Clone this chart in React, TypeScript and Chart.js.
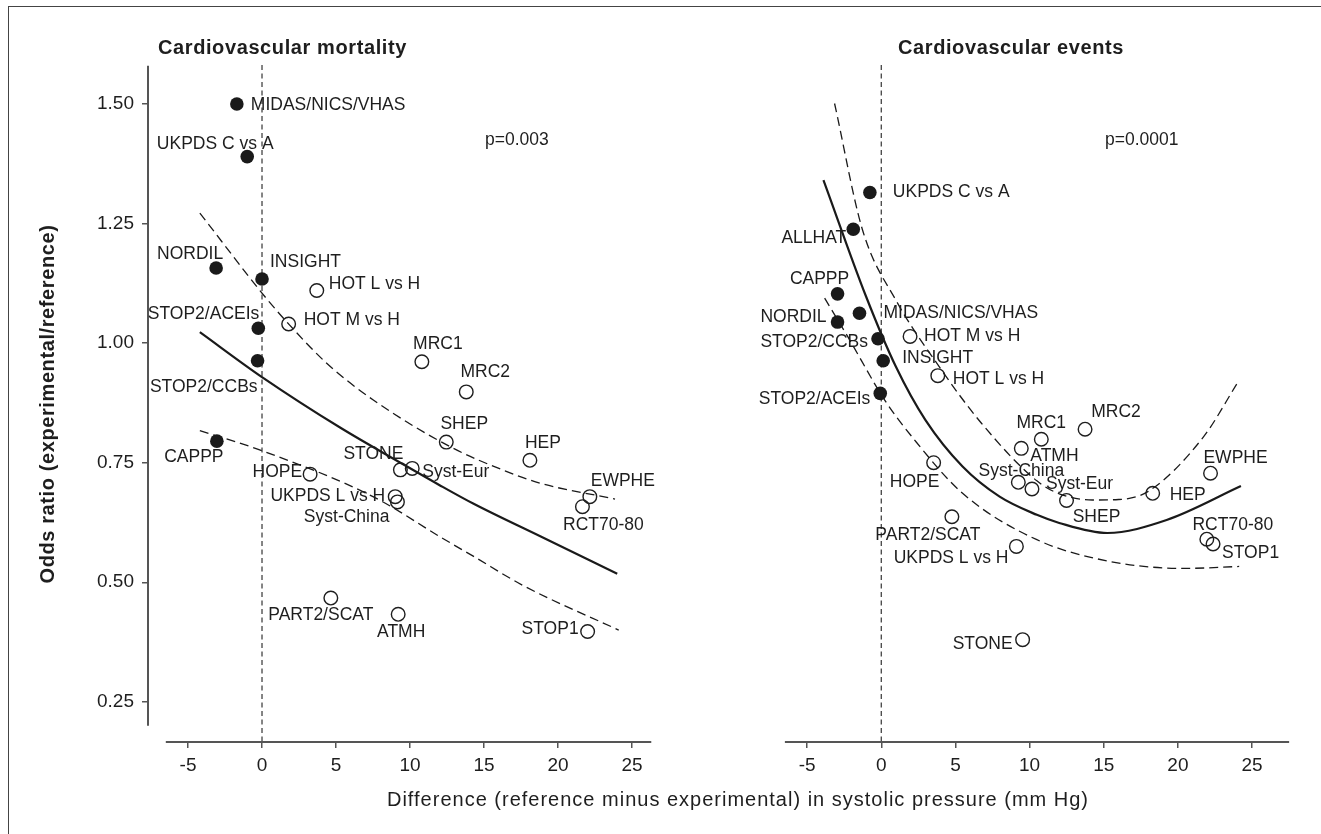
import React, { useEffect, useRef } from "react";
import { Chart, registerables } from "chart.js";
Chart.register(...registerables);

const FONT = "'Liberation Sans', Arial, Helvetica, sans-serif";

// ---------- shared axes ----------
const xTicks = [-5, 0, 5, 10, 15, 20, 25];
const yTicks = [0.25, 0.5, 0.75, 1.0, 1.25, 1.5];
const yAxisFrom = 0.2;
const yAxisTo = 1.58;

// ---------- Cardiovascular mortality ----------
const mortFilledNames = ["MIDAS/NICS/VHAS", "UKPDS C vs A", "NORDIL", "INSIGHT", "STOP2/ACEIs", "STOP2/CCBs", "CAPPP"];
const mortFilledX = [-1.7, -1.0, -3.1, 0.0, -0.25, -0.3, -3.05];
const mortFilledY = [1.5, 1.39, 1.157, 1.134, 1.031, 0.963, 0.795];

const mortOpenNames = ["HOT L vs H", "HOT M vs H", "MRC1", "MRC2", "SHEP", "HEP", "STONE", "Syst-Eur", "HOPE", "UKPDS L vs H", "Syst-China", "EWPHE", "RCT70-80", "PART2/SCAT", "ATMH", "STOP1"];
const mortOpenX = [3.7, 1.8, 10.8, 13.8, 12.45, 18.1, 9.35, 10.15, 3.25, 9.0, 9.15, 22.15, 21.65, 4.65, 9.2, 22.0];
const mortOpenY = [1.11, 1.04, 0.961, 0.898, 0.793, 0.755, 0.735, 0.738, 0.726, 0.679, 0.668, 0.679, 0.658, 0.467, 0.433, 0.397];

const mortFitX = [-4.2, 0, 5.3, 9.35, 12.0, 14.3, 18.8, 24.0];
const mortFitY = [1.023, 0.929, 0.823, 0.75, 0.703, 0.664, 0.596, 0.518];
const mortUpperX = [-4.2, 0.2, 1.8, 4.37, 7.52, 12.93, 16.5, 18.8, 23.85];
const mortUpperY = [1.272, 1.097, 1.04, 0.958, 0.881, 0.78, 0.732, 0.707, 0.674];
const mortLowerX = [-4.2, 0, 7.5, 12.25, 14.3, 17.65, 24.1];
const mortLowerY = [0.817, 0.775, 0.679, 0.591, 0.554, 0.493, 0.4];
const mortXAxisFrom = -6.5;
const mortXAxisTo = 26.3;

// ---------- Cardiovascular events ----------
const evFilledNames = ["UKPDS C vs A", "ALLHAT", "CAPPP", "MIDAS/NICS/VHAS", "NORDIL", "STOP2/CCBs", "INSIGHT", "STOP2/ACEIs"];
const evFilledX = [-0.77, -1.89, -2.95, -1.47, -2.95, -0.22, 0.13, -0.07];
const evFilledY = [1.315, 1.238, 1.103, 1.0625, 1.044, 1.009, 0.963, 0.895];

const evOpenNames = ["HOT M vs H", "HOT L vs H", "MRC1", "MRC2", "ATMH", "EWPHE", "HOPE", "Syst-China", "Syst-Eur", "SHEP", "HEP", "PART2/SCAT", "UKPDS L vs H", "RCT70-80", "STOP1", "STONE"];
const evOpenX = [1.94, 3.81, 10.79, 13.74, 9.44, 22.2, 3.53, 9.24, 10.16, 12.49, 18.3, 4.76, 9.11, 21.95, 22.37, 9.53];
const evOpenY = [1.014, 0.932, 0.799, 0.82, 0.78, 0.728, 0.75, 0.709, 0.695, 0.671, 0.686, 0.637, 0.575, 0.59, 0.58, 0.38];

const evFitX = [-3.9, -1.02, 0.98, 2.98, 5.48, 7.98, 10.49, 12.0, 15.24, 19.24, 24.25];
const evFitY = [1.341, 1.097, 0.951, 0.839, 0.742, 0.679, 0.641, 0.624, 0.603, 0.63, 0.701];
const evUpperX = [-3.15, -1.27, 0.98, 3.74, 6.74, 10.49, 12.0, 14.24, 16.0, 18.0, 21.75, 24.0];
const evUpperY = [1.501, 1.237, 1.09, 0.958, 0.833, 0.712, 0.685, 0.672, 0.673, 0.69, 0.805, 0.916];
const evLowerX = [-3.82, -2.27, 0.23, 2.23, 5.48, 10.49, 15.5, 20.5, 24.13];
const evLowerY = [1.094, 1.014, 0.881, 0.798, 0.686, 0.589, 0.543, 0.529, 0.533];
const evXAxisFrom = -6.5;
const evXAxisTo = 27.5;

// ---------- label placement (layout only): [align, dx, dy] ----------
type Off = [string, number, number];
const mortFilledOff: Off[] = [["l", 14, 0], ["c", -32, -14], ["c", -26, -15], ["l", 8, -18], ["r", 1, -16], ["r", 0, 25], ["c", -23, 15]];
const mortOpenOff: Off[] = [["l", 12, -8], ["l", 15, -5], ["c", 16, -19], ["c", 19, -21], ["c", 18, -19], ["c", 13, -19], ["c", -27, -17], ["l", 10, 2], ["r", -8, -3], ["r", -10, -2], ["r", -8, 14], ["c", 33, -17], ["c", 21, 17], ["c", -10, 16], ["c", 3, 16], ["r", -9, -4]];
const evFilledOff: Off[] = [["l", 23, -2], ["r", -7, 7], ["c", -18, -16], ["l", 24, -1], ["r", -11, -6], ["r", -10, 2], ["l", 19, -4], ["r", -10, 4]];
const evOpenOff: Off[] = [["l", 14, -2], ["l", 15, 2], ["c", 0, -18], ["c", 31, -18], ["l", 9, 6], ["c", 25, -16], ["c", -19, 18], ["c", 3, -13], ["l", 14, -6], ["c", 30, 15], ["l", 17, 0], ["c", -24, 17], ["r", -8, 10], ["c", 26, -15], ["l", 9, 8], ["r", -10, 3]];

const zip = (xs: number[], ys: number[]) => xs.map((x, i) => ({ x, y: ys[i] }));

const decorPlugin = {
  id: "decor",
  beforeDatasetsDraw(chart: any, _a: any, opts: any) {
    const { ctx, chartArea } = chart;
    const x = chart.scales.x;
    const y = chart.scales.y;
    ctx.save();
    const zx = x.getPixelForValue(0);
    ctx.strokeStyle = "#444";
    ctx.lineWidth = 1.3;
    ctx.setLineDash([5, 3.5]);
    ctx.beginPath();
    ctx.moveTo(zx, chartArea.top);
    ctx.lineTo(zx, chartArea.bottom);
    ctx.stroke();
    ctx.setLineDash([]);
    ctx.strokeStyle = "#555";
    ctx.lineWidth = 2;
    ctx.beginPath();
    ctx.moveTo(x.getPixelForValue(opts.xFrom), chartArea.bottom);
    ctx.lineTo(x.getPixelForValue(opts.xTo), chartArea.bottom);
    ctx.stroke();
    if (opts.showY) {
      ctx.beginPath();
      ctx.moveTo(chartArea.left, y.getPixelForValue(yAxisFrom));
      ctx.lineTo(chartArea.left, y.getPixelForValue(yAxisTo));
      ctx.stroke();
    }
    ctx.restore();
  },
  afterDatasetsDraw(chart: any, _a: any, opts: any) {
    const { ctx } = chart;
    ctx.save();
    const fs = 17.5;
    ctx.font = `${fs}px ${FONT}`;
    ctx.fillStyle = "#1e1e1e";
    ctx.textBaseline = "alphabetic";
    for (const set of opts.labels) {
      const meta = chart.getDatasetMeta(set.ds);
      set.names.forEach((name: string, i: number) => {
        const el = meta.data[i];
        if (!el) return;
        const [al, dx, dy] = set.off[i];
        ctx.textAlign = al === "l" ? "left" : al === "r" ? "right" : "center";
        ctx.fillText(name, el.x + dx, el.y + dy + fs * 0.358);
      });
    }
    ctx.restore();
  },
};

function buildConfig(p: any) {
  const lineDs = (xs: number[], ys: number[], dashed: boolean) => ({
    type: "line",
    data: zip(xs, ys),
    borderColor: "#1a1a1a",
    borderWidth: dashed ? 1.3 : 2.2,
    borderDash: dashed ? [9, 5] : [],
    pointRadius: 0,
    cubicInterpolationMode: "monotone",
    fill: false,
    order: 2,
  });
  return {
    type: "scatter",
    data: {
      datasets: [
        { data: zip(p.fx, p.fy), pointRadius: 6.8, backgroundColor: "#1a1a1a", borderColor: "#1a1a1a", borderWidth: 0, order: 0 },
        { data: zip(p.ox, p.oy), pointRadius: 6.8, backgroundColor: "rgba(0,0,0,0)", borderColor: "#1e1e1e", borderWidth: 1.4, order: 0 },
        lineDs(p.fitX, p.fitY, false),
        lineDs(p.upX, p.upY, true),
        lineDs(p.loX, p.loY, true),
      ],
    },
    options: {
      animation: false,
      responsive: false,
      events: [],
      layout: { padding: p.padding },
      plugins: {
        legend: { display: false },
        tooltip: { enabled: false },
        decor: {
          xFrom: p.xFrom,
          xTo: p.xTo,
          showY: p.showY,
          labels: [
            { ds: 0, names: p.fNames, off: p.fOff },
            { ds: 1, names: p.oNames, off: p.oOff },
          ],
        },
      },
      scales: {
        x: {
          type: "linear",
          min: p.xMin,
          max: p.xMax,
          afterBuildTicks: (s: any) => { s.ticks = xTicks.map((v) => ({ value: v })); },
          afterFit: (s: any) => { s.height = 40; },
          grid: { drawOnChartArea: false, drawTicks: true, tickLength: 6, color: "#555", lineWidth: 1.5 },
          border: { display: false },
          ticks: { color: "#1e1e1e", font: { family: FONT, size: 19 }, padding: 6, maxRotation: 0, autoSkip: false },
        },
        y: {
          type: "linear",
          display: p.showY,
          min: 0.166,
          max: 1.5815,
          afterBuildTicks: (s: any) => { s.ticks = yTicks.map((v) => ({ value: v })); },
          afterFit: (s: any) => { s.width = p.showY ? 148 : 0; },
          grid: { drawOnChartArea: false, drawTicks: true, tickLength: 6, color: "#555", lineWidth: 1.5 },
          border: { display: false },
          ticks: { color: "#1e1e1e", font: { family: FONT, size: 19 }, padding: 8, callback: (v: any) => Number(v).toFixed(2) },
        },
      },
    },
    plugins: [decorPlugin],
  };
}

export default function App() {
  const leftRef = useRef<HTMLCanvasElement>(null);
  const rightRef = useRef<HTMLCanvasElement>(null);

  useEffect(() => {
    const c1 = new Chart(leftRef.current as any, buildConfig({
      fx: mortFilledX, fy: mortFilledY, fNames: mortFilledNames, fOff: mortFilledOff,
      ox: mortOpenX, oy: mortOpenY, oNames: mortOpenNames, oOff: mortOpenOff,
      fitX: mortFitX, fitY: mortFitY, upX: mortUpperX, upY: mortUpperY, loX: mortLowerX, loY: mortLowerY,
      xFrom: mortXAxisFrom, xTo: mortXAxisTo, xMin: -7.703, xMax: 26.89, showY: true,
      padding: { left: 0, right: 40, top: 65, bottom: 52 },
    }) as any);
    const c2 = new Chart(rightRef.current as any, buildConfig({
      fx: evFilledX, fy: evFilledY, fNames: evFilledNames, fOff: evFilledOff,
      ox: evOpenX, oy: evOpenY, oNames: evOpenNames, oOff: evOpenOff,
      fitX: evFitX, fitY: evFitY, upX: evUpperX, upY: evUpperY, loX: evLowerX, loY: evLowerY,
      xFrom: evXAxisFrom, xTo: evXAxisTo, xMin: -6.83, xMax: 28.57, showY: false,
      padding: { left: 80, right: 16, top: 65, bottom: 52 },
    }) as any);
    return () => { c1.destroy(); c2.destroy(); };
  }, []);

  const txt: React.CSSProperties = { position: "absolute", fontFamily: FONT, color: "#1e1e1e", lineHeight: 1, whiteSpace: "nowrap" };
  return (
    <div style={{ position: "absolute", left: 0, top: 0, width: 1321, height: 834, overflow: "hidden", background: "#fff" }}>
      <div style={{ position: "absolute", left: 8, top: 6, width: 1400, height: 900, borderTop: "1.5px solid #444", borderLeft: "1.5px solid #444" }} />
      <canvas ref={leftRef} width={700} height={834} style={{ position: "absolute", left: 0, top: 0 }} />
      <canvas ref={rightRef} width={621} height={834} style={{ position: "absolute", left: 700, top: 0 }} />
      <div style={{ ...txt, left: 158, top: 36.5, fontSize: 20, fontWeight: 700, letterSpacing: 0.6 }}>Cardiovascular mortality</div>
      <div style={{ ...txt, left: 898, top: 36.5, fontSize: 20, fontWeight: 700, letterSpacing: 0.6 }}>Cardiovascular events</div>
      <div style={{ ...txt, left: 485, top: 130.5, fontSize: 17.5 }}>p=0.003</div>
      <div style={{ ...txt, left: 1105, top: 130.5, fontSize: 17.5 }}>p=0.0001</div>
      <div style={{ ...txt, left: 238, width: 1000, top: 789, fontSize: 20, letterSpacing: 1, textAlign: "center" }}>
        Difference (reference minus experimental) in systolic pressure (mm Hg)
      </div>
      <div style={{ ...txt, left: 47.3 - 250, width: 500, top: 404 - 10, fontSize: 20, fontWeight: 700, letterSpacing: 0.6, textAlign: "center", transform: "rotate(-90deg)", transformOrigin: "50% 50%" }}>
        Odds ratio (experimental/reference)
      </div>
    </div>
  );
}
